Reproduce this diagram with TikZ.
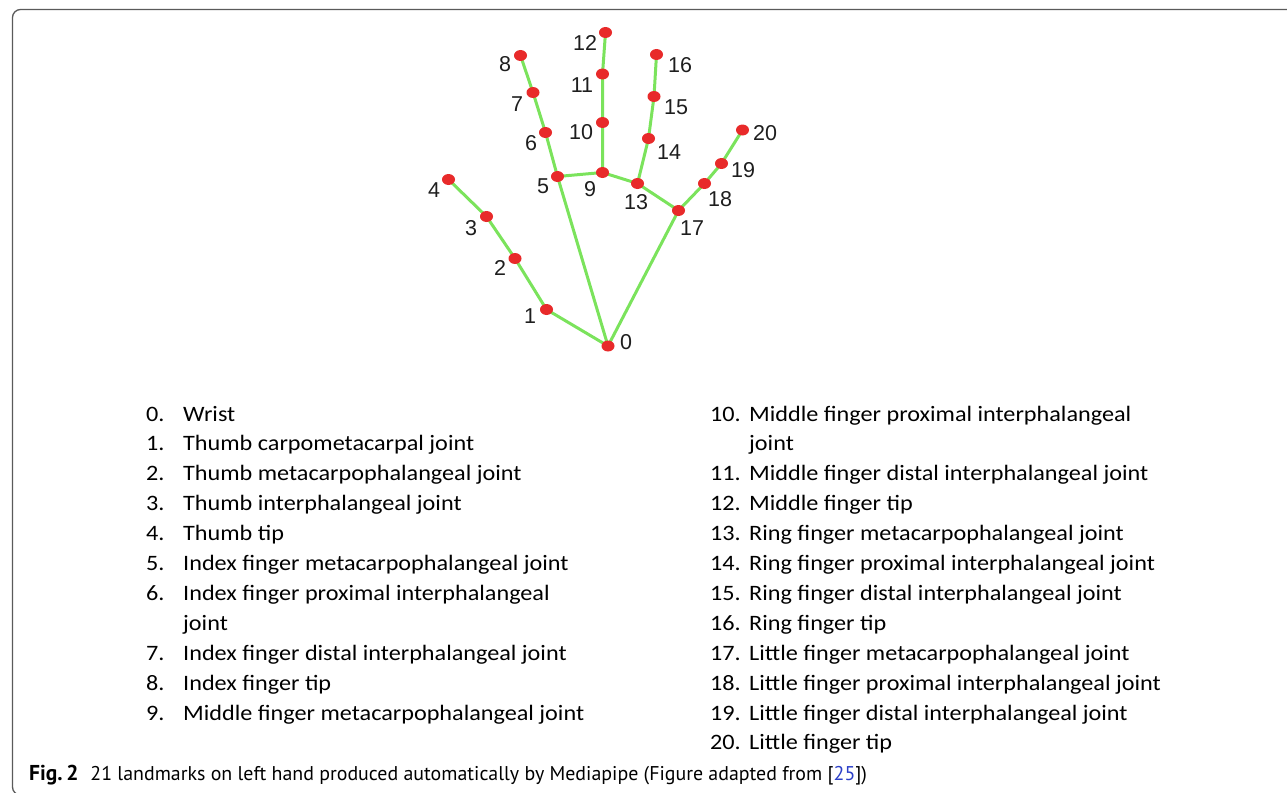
\documentclass[tikz,border=0pt]{standalone}
\usepackage{fontspec}
\setmainfont{Carlito}[FakeStretch=1.1]
\newfontfamily\handfont{Liberation Sans}
\newfontfamily\capfont{PT Sans}
\definecolor{bonegreen}{HTML}{7BE35C}
\definecolor{dotred}{HTML}{E82A2A}
\definecolor{labelgray}{HTML}{1E1E1E}
\definecolor{framegray}{HTML}{5A5A5A}
\definecolor{refblue}{HTML}{2B3FC8}
\tikzset{
  bone/.style={draw=bonegreen, line width=3pt, line cap=round},
  joint/.style={ellipse, fill=dotred, minimum width=13pt, minimum height=11pt, inner sep=0pt},
  hlabel/.style={font=\handfont\fontsize{21.5}{22}\selectfont, text=labelgray, inner sep=0pt},
  litem/.style={anchor=base west, inner sep=0pt, font=\fontsize{22}{26}\selectfont, text=black},
}
\usetikzlibrary{shapes.geometric}
\begin{document}
\begin{tikzpicture}[x=1pt,y=-1pt]
\useasboundingbox (0,0) rectangle (1287,792);
\begin{scope}
\clip (0,0) rectangle (1287,792);
\draw[framegray, line width=1.3pt, rounded corners=8pt] (1300,9.5) -- (12.5,9.5) -- (12.5,795) -- (1300,795);
\end{scope}
% landmarks
\coordinate (c0) at (608,346);
\coordinate (c1) at (546.5,309.5);
\coordinate (c2) at (515,258.5);
\coordinate (c3) at (486.5,216.5);
\coordinate (c4) at (448.5,179.5);
\coordinate (c5) at (557.5,176.5);
\coordinate (c6) at (545.5,132.5);
\coordinate (c7) at (533,92.5);
\coordinate (c8) at (520.5,55.5);
\coordinate (c9) at (602.5,172.5);
\coordinate (c10) at (602.5,122.5);
\coordinate (c11) at (602.5,74);
\coordinate (c12) at (605.5,32.5);
\coordinate (c13) at (637.5,183.5);
\coordinate (c14) at (648.5,138.5);
\coordinate (c15) at (654,96.5);
\coordinate (c16) at (656.5,54.5);
\coordinate (c17) at (678.5,210.5);
\coordinate (c18) at (704.5,183.5);
\coordinate (c19) at (721.5,163.5);
\coordinate (c20) at (742.5,130);
\draw[bone] (c0) -- (c1) -- (c2) -- (c3) -- (c4);
\draw[bone] (c0) -- (c5) -- (c6) -- (c7) -- (c8);
\draw[bone] (c5) -- (c9) -- (c10) -- (c11) -- (c12);
\draw[bone] (c9) -- (c13) -- (c14) -- (c15) -- (c16);
\draw[bone] (c13) -- (c17) -- (c18) -- (c19) -- (c20);
\draw[bone] (c0) -- (c17);
\foreach \i in {0,...,20} { \node[joint] (j\i) at (c\i) {}; }
% labels
\node[hlabel] (l0) at (626,342) {0};
\node[hlabel] (l1) at (530,316) {1};
\node[hlabel] (l2) at (500,268) {2};
\node[hlabel] (l3) at (471,228) {3};
\node[hlabel] (l4) at (434,190) {4};
\node[hlabel] (l5) at (543,186) {5};
\node[hlabel] (l6) at (531,143) {6};
\node[hlabel] (l7) at (517,104) {7};
\node[hlabel] (l8) at (505,64) {8};
\node[hlabel] (l9) at (590,189) {9};
\node[hlabel] (l10) at (581,132) {10};
\node[hlabel] (l11) at (582,85) {11};
\node[hlabel] (l12) at (585,43) {12};
\node[hlabel] (l13) at (636,202) {13};
\node[hlabel] (l14) at (669,152) {14};
\node[hlabel] (l15) at (676,107) {15};
\node[hlabel] (l16) at (680,65) {16};
\node[hlabel] (l17) at (692,228) {17};
\node[hlabel] (l18) at (720,199) {18};
\node[hlabel] (l19) at (743,170) {19};
\node[hlabel] (l20) at (765,133) {20};
% left list
\foreach \n/\t [count=\r from 0] in {0./Wrist, 1./Thumb carpometacarpal joint, 2./Thumb metacarpophalangeal joint, 3./Thumb interphalangeal joint, 4./Thumb tip, 5./Index finger metacarpophalangeal joint, 6./Index finger proximal interphalangeal, {}/joint, 7./Index finger distal interphalangeal joint, 8./Index finger tip, 9./Middle finger metacarpophalangeal joint} {
  \node[litem] (ln\r) at (146,421+29.9*\r) {\n};
  \node[litem] (lt\r) at (183,421+29.9*\r) {\t};
}
% right list
\foreach \n/\t [count=\r from 0] in {10./Middle finger proximal interphalangeal, {}/joint, 11./Middle finger distal interphalangeal joint, 12./Middle finger tip, 13./Ring finger metacarpophalangeal joint, 14./Ring finger proximal interphalangeal joint, 15./Ring finger distal interphalangeal joint, 16./Ring finger tip, 17./Little finger metacarpophalangeal joint, 18./Little finger proximal interphalangeal joint, 19./Little finger distal interphalangeal joint, 20./Little finger tip} {
  \node[litem] (rn\r) at (710,421+29.9*\r) {\n};
  \node[litem] (rt\r) at (749,421+29.9*\r) {\t};
}
% caption
\node[anchor=base west, inner sep=0pt, font=\capfont\fontsize{19.9}{22}\selectfont, text=black] (cap) at (29,780) {{\fontsize{21.5}{22}\selectfont\textbf{Fig.\,2}}\hspace{12pt}21 landmarks on left hand produced automatically by Mediapipe (Figure adapted from [{\color{refblue}25}])};
\end{tikzpicture}
\end{document}
